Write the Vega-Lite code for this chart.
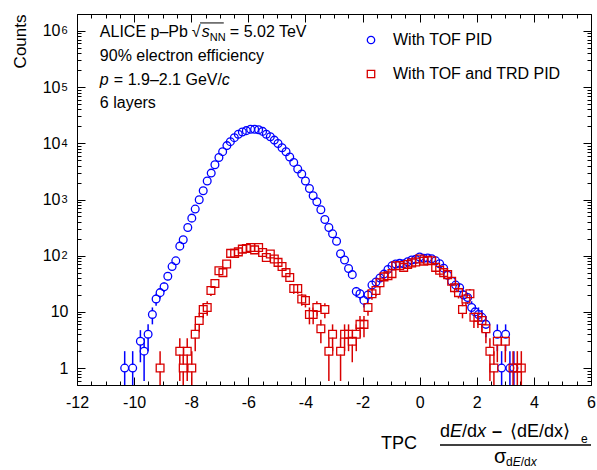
{
  "$schema": "https://vega.github.io/schema/vega-lite/v6.json",
  "width": 514,
  "height": 371,
  "autosize": {"type": "none"},
  "padding": {"left": 77, "top": 14, "right": 6, "bottom": 85},
  "background": "white",
  "config": {
    "view": {"stroke": "black", "strokeWidth": 1},
    "font": "Liberation Sans",
    "axis": {"domain": false, "grid": false, "tickColor": "black", "labelColor": "black", "labelFont": "Liberation Sans", "labelFlush": false, "labelOverlap": false, "tickWidth": 1}
  },
  "datasets": {
    "pts": [
      {"series": "With TOF PID", "x": -10.33, "n": 1, "lo": 0.3, "hi": 2},
      {"series": "With TOF PID", "x": -10.05, "n": 1, "lo": 0.3, "hi": 2},
      {"series": "With TOF PID", "x": -9.78, "n": 3, "lo": 1.27, "hi": 4.73},
      {"series": "With TOF PID", "x": -9.65, "n": 2, "lo": 0.59, "hi": 3.41},
      {"series": "With TOF PID", "x": -9.51, "n": 4, "lo": 2, "hi": 6},
      {"series": "With TOF PID", "x": -9.36, "n": 9, "lo": 6, "hi": 12},
      {"series": "With TOF PID", "x": -9.23, "n": 17, "lo": 12.88, "hi": 21.12},
      {"series": "With TOF PID", "x": -9.09, "n": 22, "lo": 17.31, "hi": 26.69},
      {"series": "With TOF PID", "x": -8.95, "n": 28, "lo": 22.7, "hi": 33.3},
      {"series": "With TOF PID", "x": -8.82, "n": 43, "lo": 36.4, "hi": 49.6},
      {"series": "With TOF PID", "x": -8.67, "n": 64, "lo": 56, "hi": 72},
      {"series": "With TOF PID", "x": -8.54, "n": 81},
      {"series": "With TOF PID", "x": -8.40, "n": 148},
      {"series": "With TOF PID", "x": -8.28, "n": 192},
      {"series": "With TOF PID", "x": -8.12, "n": 318},
      {"series": "With TOF PID", "x": -7.98, "n": 466},
      {"series": "With TOF PID", "x": -7.86, "n": 675},
      {"series": "With TOF PID", "x": -7.72, "n": 990},
      {"series": "With TOF PID", "x": -7.58, "n": 1430},
      {"series": "With TOF PID", "x": -7.44, "n": 2130},
      {"series": "With TOF PID", "x": -7.30, "n": 2950},
      {"series": "With TOF PID", "x": -7.17, "n": 4160},
      {"series": "With TOF PID", "x": -7.03, "n": 5600},
      {"series": "With TOF PID", "x": -6.90, "n": 7100},
      {"series": "With TOF PID", "x": -6.75, "n": 9100},
      {"series": "With TOF PID", "x": -6.63, "n": 10700},
      {"series": "With TOF PID", "x": -6.49, "n": 12600},
      {"series": "With TOF PID", "x": -6.35, "n": 14500},
      {"series": "With TOF PID", "x": -6.21, "n": 15900},
      {"series": "With TOF PID", "x": -6.07, "n": 16800},
      {"series": "With TOF PID", "x": -5.92, "n": 17800},
      {"series": "With TOF PID", "x": -5.78, "n": 17800},
      {"series": "With TOF PID", "x": -5.64, "n": 17400},
      {"series": "With TOF PID", "x": -5.50, "n": 16300},
      {"series": "With TOF PID", "x": -5.37, "n": 14500},
      {"series": "With TOF PID", "x": -5.23, "n": 13100},
      {"series": "With TOF PID", "x": -5.09, "n": 11400},
      {"series": "With TOF PID", "x": -4.96, "n": 9930},
      {"series": "With TOF PID", "x": -4.82, "n": 8330},
      {"series": "With TOF PID", "x": -4.68, "n": 7080},
      {"series": "With TOF PID", "x": -4.55, "n": 5690},
      {"series": "With TOF PID", "x": -4.41, "n": 4570},
      {"series": "With TOF PID", "x": -4.27, "n": 3480},
      {"series": "With TOF PID", "x": -4.13, "n": 2840},
      {"series": "With TOF PID", "x": -4.00, "n": 2130},
      {"series": "With TOF PID", "x": -3.86, "n": 1570},
      {"series": "With TOF PID", "x": -3.73, "n": 1165},
      {"series": "With TOF PID", "x": -3.60, "n": 912},
      {"series": "With TOF PID", "x": -3.46, "n": 656},
      {"series": "With TOF PID", "x": -3.32, "n": 440},
      {"series": "With TOF PID", "x": -3.18, "n": 318},
      {"series": "With TOF PID", "x": -3.05, "n": 245},
      {"series": "With TOF PID", "x": -2.91, "n": 181},
      {"series": "With TOF PID", "x": -2.77, "n": 108},
      {"series": "With TOF PID", "x": -2.63, "n": 84},
      {"series": "With TOF PID", "x": -2.49, "n": 59, "lo": 51.3, "hi": 66.7},
      {"series": "With TOF PID", "x": -2.36, "n": 46, "lo": 39.2, "hi": 52.8},
      {"series": "With TOF PID", "x": -2.22, "n": 23, "lo": 18.2, "hi": 27.8},
      {"series": "With TOF PID", "x": -2.09, "n": 21, "lo": 16.42, "hi": 25.58},
      {"series": "With TOF PID", "x": -1.95, "n": 16, "lo": 12, "hi": 20},
      {"series": "With TOF PID", "x": -1.81, "n": 20, "lo": 15.53, "hi": 24.47},
      {"series": "With TOF PID", "x": -1.67, "n": 30, "lo": 24.5, "hi": 35.5},
      {"series": "With TOF PID", "x": -1.53, "n": 34, "lo": 28.2, "hi": 39.8},
      {"series": "With TOF PID", "x": -1.39, "n": 40, "lo": 33.7, "hi": 46.3},
      {"series": "With TOF PID", "x": -1.25, "n": 47, "lo": 40.1, "hi": 53.9},
      {"series": "With TOF PID", "x": -1.11, "n": 57, "lo": 49.5, "hi": 64.5},
      {"series": "With TOF PID", "x": -0.97, "n": 66, "lo": 57.9, "hi": 74.1},
      {"series": "With TOF PID", "x": -0.84, "n": 71, "lo": 62.6, "hi": 79.4},
      {"series": "With TOF PID", "x": -0.70, "n": 73},
      {"series": "With TOF PID", "x": -0.56, "n": 72},
      {"series": "With TOF PID", "x": -0.42, "n": 78},
      {"series": "With TOF PID", "x": -0.28, "n": 84},
      {"series": "With TOF PID", "x": -0.14, "n": 86},
      {"series": "With TOF PID", "x": 0.00, "n": 95},
      {"series": "With TOF PID", "x": 0.14, "n": 90},
      {"series": "With TOF PID", "x": 0.28, "n": 91},
      {"series": "With TOF PID", "x": 0.42, "n": 88},
      {"series": "With TOF PID", "x": 0.56, "n": 81},
      {"series": "With TOF PID", "x": 0.70, "n": 72},
      {"series": "With TOF PID", "x": 0.84, "n": 60, "lo": 52.3, "hi": 67.7},
      {"series": "With TOF PID", "x": 0.98, "n": 45, "lo": 38.3, "hi": 51.7},
      {"series": "With TOF PID", "x": 1.12, "n": 35, "lo": 29.1, "hi": 40.9},
      {"series": "With TOF PID", "x": 1.26, "n": 30, "lo": 24.5, "hi": 35.5},
      {"series": "With TOF PID", "x": 1.40, "n": 27, "lo": 21.8, "hi": 32.2},
      {"series": "With TOF PID", "x": 1.54, "n": 20, "lo": 15.53, "hi": 24.47},
      {"series": "With TOF PID", "x": 1.68, "n": 18, "lo": 13.76, "hi": 22.24},
      {"series": "With TOF PID", "x": 1.82, "n": 12, "lo": 8.54, "hi": 15.46},
      {"series": "With TOF PID", "x": 1.94, "n": 10, "lo": 6.84, "hi": 13.16},
      {"series": "With TOF PID", "x": 2.06, "n": 9, "lo": 6, "hi": 12},
      {"series": "With TOF PID", "x": 2.18, "n": 8, "lo": 5.17, "hi": 10.83},
      {"series": "With TOF PID", "x": 2.32, "n": 6, "lo": 3.55, "hi": 8.45},
      {"series": "With TOF PID", "x": 2.72, "n": 4, "lo": 2, "hi": 6},
      {"series": "With TOF PID", "x": 2.87, "n": 1, "lo": 0.3, "hi": 2},
      {"series": "With TOF PID", "x": 3.01, "n": 4, "lo": 2, "hi": 6},
      {"series": "With TOF PID", "x": 3.16, "n": 1, "lo": 0.3, "hi": 2},
      {"series": "With TOF PID", "x": 3.30, "n": 1, "lo": 0.3, "hi": 2},
      {"series": "With TOF and TRD PID", "x": -9.09, "n": 1, "lo": 0.3, "hi": 2},
      {"series": "With TOF and TRD PID", "x": -8.40, "n": 2, "lo": 0.59, "hi": 3.41},
      {"series": "With TOF and TRD PID", "x": -8.28, "n": 1, "lo": 0.3, "hi": 2},
      {"series": "With TOF and TRD PID", "x": -8.14, "n": 2, "lo": 0.59, "hi": 3.41},
      {"series": "With TOF and TRD PID", "x": -7.98, "n": 1, "lo": 0.3, "hi": 2},
      {"series": "With TOF and TRD PID", "x": -7.86, "n": 4, "lo": 2, "hi": 6},
      {"series": "With TOF and TRD PID", "x": -7.72, "n": 7, "lo": 4.35, "hi": 9.65},
      {"series": "With TOF and TRD PID", "x": -7.58, "n": 11, "lo": 7.68, "hi": 14.32},
      {"series": "With TOF and TRD PID", "x": -7.44, "n": 12, "lo": 8.54, "hi": 15.46},
      {"series": "With TOF and TRD PID", "x": -7.31, "n": 24, "lo": 19.1, "hi": 28.9},
      {"series": "With TOF and TRD PID", "x": -7.17, "n": 32, "lo": 26.3, "hi": 37.7},
      {"series": "With TOF and TRD PID", "x": -7.03, "n": 54, "lo": 46.7, "hi": 61.3},
      {"series": "With TOF and TRD PID", "x": -6.89, "n": 50, "lo": 42.9, "hi": 57.1},
      {"series": "With TOF and TRD PID", "x": -6.76, "n": 71, "lo": 62.6, "hi": 79.4},
      {"series": "With TOF and TRD PID", "x": -6.62, "n": 110},
      {"series": "With TOF and TRD PID", "x": -6.48, "n": 110},
      {"series": "With TOF and TRD PID", "x": -6.35, "n": 117},
      {"series": "With TOF and TRD PID", "x": -6.21, "n": 131},
      {"series": "With TOF and TRD PID", "x": -6.07, "n": 134},
      {"series": "With TOF and TRD PID", "x": -5.92, "n": 140},
      {"series": "With TOF and TRD PID", "x": -5.78, "n": 127},
      {"series": "With TOF and TRD PID", "x": -5.64, "n": 140},
      {"series": "With TOF and TRD PID", "x": -5.50, "n": 114},
      {"series": "With TOF and TRD PID", "x": -5.37, "n": 93},
      {"series": "With TOF and TRD PID", "x": -5.23, "n": 107},
      {"series": "With TOF and TRD PID", "x": -5.09, "n": 87},
      {"series": "With TOF and TRD PID", "x": -4.96, "n": 76, "lo": 67.3, "hi": 84.7},
      {"series": "With TOF and TRD PID", "x": -4.82, "n": 64, "lo": 56, "hi": 72},
      {"series": "With TOF and TRD PID", "x": -4.68, "n": 50, "lo": 42.9, "hi": 57.1},
      {"series": "With TOF and TRD PID", "x": -4.55, "n": 41, "lo": 34.6, "hi": 47.4},
      {"series": "With TOF and TRD PID", "x": -4.41, "n": 26, "lo": 20.9, "hi": 31.1},
      {"series": "With TOF and TRD PID", "x": -4.27, "n": 26, "lo": 20.9, "hi": 31.1},
      {"series": "With TOF and TRD PID", "x": -4.13, "n": 17, "lo": 12.88, "hi": 21.12},
      {"series": "With TOF and TRD PID", "x": -4.00, "n": 16, "lo": 12, "hi": 20},
      {"series": "With TOF and TRD PID", "x": -3.86, "n": 9, "lo": 6, "hi": 12},
      {"series": "With TOF and TRD PID", "x": -3.73, "n": 9, "lo": 6, "hi": 12},
      {"series": "With TOF and TRD PID", "x": -3.60, "n": 12, "lo": 8.54, "hi": 15.46},
      {"series": "With TOF and TRD PID", "x": -3.46, "n": 5, "lo": 2.76, "hi": 7.24},
      {"series": "With TOF and TRD PID", "x": -3.32, "n": 11, "lo": 7.68, "hi": 14.32},
      {"series": "With TOF and TRD PID", "x": -3.18, "n": 2, "lo": 0.59, "hi": 3.41},
      {"series": "With TOF and TRD PID", "x": -3.05, "n": 4, "lo": 2, "hi": 6},
      {"series": "With TOF and TRD PID", "x": -2.77, "n": 2, "lo": 0.59, "hi": 3.41},
      {"series": "With TOF and TRD PID", "x": -2.63, "n": 4, "lo": 2, "hi": 6},
      {"series": "With TOF and TRD PID", "x": -2.49, "n": 4, "lo": 2, "hi": 6},
      {"series": "With TOF and TRD PID", "x": -2.36, "n": 3, "lo": 1.27, "hi": 4.73},
      {"series": "With TOF and TRD PID", "x": -2.22, "n": 4, "lo": 2, "hi": 6},
      {"series": "With TOF and TRD PID", "x": -2.09, "n": 6, "lo": 3.55, "hi": 8.45},
      {"series": "With TOF and TRD PID", "x": -1.95, "n": 6, "lo": 3.55, "hi": 8.45},
      {"series": "With TOF and TRD PID", "x": -1.81, "n": 12, "lo": 8.54, "hi": 15.46},
      {"series": "With TOF and TRD PID", "x": -1.67, "n": 21, "lo": 16.42, "hi": 25.58},
      {"series": "With TOF and TRD PID", "x": -1.53, "n": 24, "lo": 19.1, "hi": 28.9},
      {"series": "With TOF and TRD PID", "x": -1.39, "n": 33, "lo": 27.3, "hi": 38.7},
      {"series": "With TOF and TRD PID", "x": -1.25, "n": 42, "lo": 35.5, "hi": 48.5},
      {"series": "With TOF and TRD PID", "x": -1.11, "n": 44, "lo": 37.4, "hi": 50.6},
      {"series": "With TOF and TRD PID", "x": -0.97, "n": 48, "lo": 41.1, "hi": 54.9},
      {"series": "With TOF and TRD PID", "x": -0.84, "n": 66, "lo": 57.9, "hi": 74.1},
      {"series": "With TOF and TRD PID", "x": -0.70, "n": 67, "lo": 58.8, "hi": 75.2},
      {"series": "With TOF and TRD PID", "x": -0.56, "n": 62, "lo": 54.1, "hi": 69.9},
      {"series": "With TOF and TRD PID", "x": -0.42, "n": 70, "lo": 61.6, "hi": 78.4},
      {"series": "With TOF and TRD PID", "x": -0.28, "n": 74},
      {"series": "With TOF and TRD PID", "x": -0.14, "n": 77},
      {"series": "With TOF and TRD PID", "x": 0.00, "n": 87},
      {"series": "With TOF and TRD PID", "x": 0.14, "n": 80},
      {"series": "With TOF and TRD PID", "x": 0.28, "n": 83},
      {"series": "With TOF and TRD PID", "x": 0.42, "n": 81},
      {"series": "With TOF and TRD PID", "x": 0.56, "n": 62, "lo": 54.1, "hi": 69.9},
      {"series": "With TOF and TRD PID", "x": 0.70, "n": 55, "lo": 47.6, "hi": 62.4},
      {"series": "With TOF and TRD PID", "x": 0.84, "n": 50, "lo": 42.9, "hi": 57.1},
      {"series": "With TOF and TRD PID", "x": 0.98, "n": 46, "lo": 39.2, "hi": 52.8},
      {"series": "With TOF and TRD PID", "x": 1.12, "n": 35, "lo": 29.1, "hi": 40.9},
      {"series": "With TOF and TRD PID", "x": 1.22, "n": 27, "lo": 21.8, "hi": 32.2},
      {"series": "With TOF and TRD PID", "x": 1.36, "n": 22, "lo": 17.31, "hi": 26.69},
      {"series": "With TOF and TRD PID", "x": 1.50, "n": 11, "lo": 7.68, "hi": 14.32},
      {"series": "With TOF and TRD PID", "x": 1.62, "n": 17, "lo": 12.88, "hi": 21.12},
      {"series": "With TOF and TRD PID", "x": 1.76, "n": 21, "lo": 16.42, "hi": 25.58},
      {"series": "With TOF and TRD PID", "x": 1.90, "n": 8, "lo": 5.17, "hi": 10.83},
      {"series": "With TOF and TRD PID", "x": 2.04, "n": 8, "lo": 5.17, "hi": 10.83},
      {"series": "With TOF and TRD PID", "x": 2.18, "n": 7, "lo": 4.35, "hi": 9.65},
      {"series": "With TOF and TRD PID", "x": 2.32, "n": 5, "lo": 2.76, "hi": 7.24},
      {"series": "With TOF and TRD PID", "x": 2.46, "n": 2, "lo": 0.59, "hi": 3.41},
      {"series": "With TOF and TRD PID", "x": 2.60, "n": 1, "lo": 0.3, "hi": 2},
      {"series": "With TOF and TRD PID", "x": 2.72, "n": 3, "lo": 1.27, "hi": 4.73},
      {"series": "With TOF and TRD PID", "x": 3.00, "n": 3, "lo": 1.27, "hi": 4.73},
      {"series": "With TOF and TRD PID", "x": 3.27, "n": 1, "lo": 0.3, "hi": 2},
      {"series": "With TOF and TRD PID", "x": 3.42, "n": 1, "lo": 0.3, "hi": 2},
      {"series": "With TOF and TRD PID", "x": 3.56, "n": 1, "lo": 0.3, "hi": 2}
    ]
  },
  "resolve": {"axis": {"x": "independent", "y": "independent"}},
  "layer": [
    {
      "data": {"name": "pts"},
      "transform": [{"filter": "datum.series == 'With TOF PID'"}],
      "mark": {"type": "rule", "strokeWidth": 1.5, "clip": true, "color": "#0000ff"},
      "encoding": {
        "x": {"field": "x", "type": "quantitative", "scale": {"domain": [-12, 6], "nice": false, "zero": false},
              "axis": {"orient": "bottom", "values": [-12, -10, -8, -6, -4, -2, 0, 2, 4, 6], "ticks": false, "labelExpr": "'' + datum.value", "labelFontSize": 16, "labelPadding": 9, "labelBaseline": "top", "title": null}},
        "y": {"field": "lo", "type": "quantitative", "scale": {"type": "log", "domain": [0.5, 2000000], "nice": false},
              "axis": {"orient": "left", "values": [100, 1000, 10000, 100000, 1000000], "ticks": false, "labelExpr": "'10'", "labelFontSize": 16, "labelPadding": 17, "labelDy": 2,
                       "title": "Counts", "titleFont": "Liberation Sans", "titleFontSize": 17, "titleFontWeight": "normal", "titleColor": "black", "titleAngle": -90, "titleX": -57, "titleY": 0, "titleAlign": "right", "titleBaseline": "middle"}},
        "y2": {"field": "hi"}
      }
    },
    {
      "data": {"name": "pts"},
      "transform": [{"filter": "datum.series == 'With TOF and TRD PID'"}],
      "mark": {"type": "rule", "strokeWidth": 1.5, "clip": true, "color": "#d80000"},
      "encoding": {
        "x": {"field": "x", "type": "quantitative", "axis": {"orient": "bottom", "values": [-12, -10, -8, -6, -4, -2, 0, 2, 4, 6], "labels": false, "tickSize": -8, "title": null}},
        "y": {"field": "lo", "type": "quantitative", "axis": {"orient": "left", "values": [1, 10, 100, 1000, 10000, 100000, 1000000], "labels": false, "tickSize": -8, "title": null}},
        "y2": {"field": "hi"}
      }
    },
    {
      "data": {"name": "pts"},
      "transform": [{"filter": "datum.series == 'With TOF PID'"}],
      "mark": {"type": "point", "shape": "circle", "filled": true, "color": "white", "strokeWidth": 0, "size": 45, "opacity": 1},
      "encoding": {
        "x": {"field": "x", "type": "quantitative", "axis": {"orient": "bottom", "values": [-11.5, -11, -10.5, -9.5, -9, -8.5, -7.5, -7, -6.5, -5.5, -5, -4.5, -3.5, -3, -2.5, -1.5, -1, -0.5, 0.5, 1, 1.5, 2.5, 3, 3.5, 4.5, 5, 5.5], "labels": false, "tickSize": -4, "title": null}},
        "y": {"field": "n", "type": "quantitative", "axis": {"orient": "left", "values": [0.5, 0.6, 0.7, 0.8, 0.9, 2, 3, 4, 5, 6, 7, 8, 9, 20, 30, 40, 50, 60, 70, 80, 90, 200, 300, 400, 500, 600, 700, 800, 900, 2000, 3000, 4000, 5000, 6000, 7000, 8000, 9000, 20000, 30000, 40000, 50000, 60000, 70000, 80000, 90000, 200000, 300000, 400000, 500000, 600000, 700000, 800000, 900000, 2000000], "labels": false, "tickSize": -4, "title": null}}
      }
    },
    {
      "data": {"name": "pts"},
      "transform": [{"filter": "datum.series == 'With TOF and TRD PID'"}],
      "mark": {"type": "point", "shape": "square", "filled": true, "color": "white", "strokeWidth": 0, "size": 45, "opacity": 1},
      "encoding": {
        "x": {"field": "x", "type": "quantitative", "axis": {"orient": "top", "values": [-12, -10, -8, -6, -4, -2, 0, 2, 4, 6], "labels": false, "tickSize": -8, "title": null}},
        "y": {"field": "n", "type": "quantitative", "axis": {"orient": "right", "values": [1, 10, 100, 1000, 10000, 100000, 1000000], "labels": false, "tickSize": -8, "title": null}}
      }
    },
    {
      "data": {"name": "pts"},
      "mark": {"type": "point", "filled": false, "strokeWidth": 1.3, "size": 60, "opacity": 1},
      "encoding": {
        "x": {"field": "x", "type": "quantitative", "axis": {"orient": "top", "values": [-11.5, -11, -10.5, -9.5, -9, -8.5, -7.5, -7, -6.5, -5.5, -5, -4.5, -3.5, -3, -2.5, -1.5, -1, -0.5, 0.5, 1, 1.5, 2.5, 3, 3.5, 4.5, 5, 5.5], "labels": false, "tickSize": -4, "title": null}},
        "y": {"field": "n", "type": "quantitative", "axis": {"orient": "right", "values": [0.5, 0.6, 0.7, 0.8, 0.9, 2, 3, 4, 5, 6, 7, 8, 9, 20, 30, 40, 50, 60, 70, 80, 90, 200, 300, 400, 500, 600, 700, 800, 900, 2000, 3000, 4000, 5000, 6000, 7000, 8000, 9000, 20000, 30000, 40000, 50000, 60000, 70000, 80000, 90000, 200000, 300000, 400000, 500000, 600000, 700000, 800000, 900000, 2000000], "labels": false, "tickSize": -4, "title": null}},
        "color": {"field": "series", "type": "nominal", "scale": {"domain": ["With TOF PID", "With TOF and TRD PID"], "range": ["#0000ff", "#d80000"]},
                  "legend": {"orient": "none", "legendX": 286, "legendY": 18, "title": null, "labelFont": "Liberation Sans", "labelFontSize": 16, "labelColor": "black", "labelLimit": 0, "symbolSize": 55, "symbolStrokeWidth": 1.3, "rowPadding": 18, "labelOffset": 14}},
        "shape": {"field": "series", "type": "nominal", "scale": {"domain": ["With TOF PID", "With TOF and TRD PID"], "range": ["circle", "square"]},
                  "legend": {"orient": "none", "legendX": 286, "legendY": 18, "title": null, "labelFont": "Liberation Sans", "labelFontSize": 16, "labelColor": "black", "labelLimit": 0, "symbolSize": 55, "symbolStrokeWidth": 1.3, "rowPadding": 18, "labelOffset": 14}}
      }
    },
    {
      "data": {"values": [{}]},
      "mark": {"type": "text", "text": "ALICE p\u2013Pb", "align": "left", "baseline": "alphabetic", "fontSize": 16, "color": "black"},
      "encoding": {"x": {"datum": -11.2, "type": "quantitative", "axis": null}, "y": {"datum": 780000, "type": "quantitative", "axis": null}}
    },
    {
      "data": {"values": [{}]},
      "mark": {"type": "text", "text": "\u221a", "align": "left", "baseline": "alphabetic", "fontSize": 16, "dx": 92, "color": "black"},
      "encoding": {"x": {"datum": -11.2, "type": "quantitative", "axis": null}, "y": {"datum": 780000, "type": "quantitative", "axis": null}}
    },
    {
      "data": {"values": [{}]},
      "mark": {"type": "text", "text": "s", "align": "left", "baseline": "alphabetic", "fontSize": 16, "fontStyle": "italic", "dx": 102, "color": "black"},
      "encoding": {
        "x": {"datum": -11.2, "type": "quantitative", "axis": null},
        "y": {"datum": 780000, "type": "quantitative", "axis": {"orient": "left", "values": [1, 10], "ticks": false, "labelExpr": "datum.value < 5 ? '1' : '10'", "labelFontSize": 16, "labelPadding": 9, "labelDy": 2, "title": null}}
      }
    },
    {
      "data": {"values": [{}]},
      "mark": {"type": "text", "text": "NN", "align": "left", "baseline": "alphabetic", "fontSize": 11, "dx": 110, "dy": 4, "color": "black"},
      "encoding": {
        "x": {"datum": -11.2, "type": "quantitative", "axis": null},
        "y": {"datum": 780000, "type": "quantitative", "axis": {"orient": "left", "values": [100, 1000, 10000, 100000, 1000000], "ticks": false, "labelExpr": "'' + round(log(datum.value) / LN10)", "labelFontSize": 11, "labelAlign": "left", "labelPadding": 16, "labelDy": -5, "title": null}}
      }
    },
    {
      "data": {"values": [{}]},
      "mark": {"type": "text", "text": "= 5.02 TeV", "align": "left", "baseline": "alphabetic", "fontSize": 16, "dx": 130, "color": "black"},
      "encoding": {"x": {"datum": -11.2, "type": "quantitative", "axis": null}, "y": {"datum": 780000, "type": "quantitative", "axis": null}}
    },
    {
      "data": {"values": [{}]},
      "mark": {"type": "rule", "strokeWidth": 1, "color": "black"},
      "encoding": {"x": {"datum": -7.69, "type": "quantitative", "axis": null}, "x2": {"datum": -6.86}, "y": {"datum": 1386000, "type": "quantitative", "axis": null}}
    },
    {
      "data": {"values": [{}]},
      "mark": {"type": "text", "text": "90% electron efficiency", "align": "left", "baseline": "alphabetic", "fontSize": 16, "color": "black"},
      "encoding": {"x": {"datum": -11.2, "type": "quantitative", "axis": null}, "y": {"datum": 292000, "type": "quantitative", "axis": null}}
    },
    {
      "data": {"values": [{}]},
      "mark": {"type": "text", "text": "p", "align": "left", "baseline": "alphabetic", "fontSize": 16, "fontStyle": "italic", "color": "black"},
      "encoding": {"x": {"datum": -11.2, "type": "quantitative", "axis": null}, "y": {"datum": 109000, "type": "quantitative", "axis": null}}
    },
    {
      "data": {"values": [{}]},
      "mark": {"type": "text", "text": "= 1.9\u20132.1 GeV/", "align": "left", "baseline": "alphabetic", "fontSize": 16, "dx": 14, "color": "black"},
      "encoding": {"x": {"datum": -11.2, "type": "quantitative", "axis": null}, "y": {"datum": 109000, "type": "quantitative", "axis": null}}
    },
    {
      "data": {"values": [{}]},
      "mark": {"type": "text", "text": "c", "align": "left", "baseline": "alphabetic", "fontSize": 16, "fontStyle": "italic", "dx": 122, "color": "black"},
      "encoding": {"x": {"datum": -11.2, "type": "quantitative", "axis": null}, "y": {"datum": 109000, "type": "quantitative", "axis": null}}
    },
    {
      "data": {"values": [{}]},
      "mark": {"type": "text", "text": "6 layers", "align": "left", "baseline": "alphabetic", "fontSize": 16, "color": "black"},
      "encoding": {"x": {"datum": -11.2, "type": "quantitative", "axis": null}, "y": {"datum": 42500, "type": "quantitative", "axis": null}}
    },
    {
      "data": {"values": [{}]},
      "mark": {"type": "text", "text": "TPC", "align": "left", "baseline": "alphabetic", "fontSize": 18, "color": "black"},
      "encoding": {"x": {"datum": -1.354, "type": "quantitative", "axis": null}, "y": {"datum": 0.0363, "type": "quantitative", "axis": null}}
    },
    {
      "data": {"values": [{}]},
      "mark": {"type": "text", "text": "d", "align": "left", "baseline": "alphabetic", "fontSize": 18, "color": "black"},
      "encoding": {"x": {"datum": 0.712, "type": "quantitative", "axis": null}, "y": {"datum": 0.0594, "type": "quantitative", "axis": null}}
    },
    {
      "data": {"values": [{}]},
      "mark": {"type": "text", "text": "E", "align": "left", "baseline": "alphabetic", "fontSize": 18, "fontStyle": "italic", "dx": 10, "color": "black"},
      "encoding": {"x": {"datum": 0.712, "type": "quantitative", "axis": null}, "y": {"datum": 0.0594, "type": "quantitative", "axis": null}}
    },
    {
      "data": {"values": [{}]},
      "mark": {"type": "text", "text": "/d", "align": "left", "baseline": "alphabetic", "fontSize": 18, "dx": 22, "color": "black"},
      "encoding": {"x": {"datum": 0.712, "type": "quantitative", "axis": null}, "y": {"datum": 0.0594, "type": "quantitative", "axis": null}}
    },
    {
      "data": {"values": [{}]},
      "mark": {"type": "text", "text": "x", "align": "left", "baseline": "alphabetic", "fontSize": 18, "fontStyle": "italic", "dx": 37, "color": "black"},
      "encoding": {"x": {"datum": 0.712, "type": "quantitative", "axis": null}, "y": {"datum": 0.0594, "type": "quantitative", "axis": null}}
    },
    {
      "data": {"values": [{}]},
      "mark": {"type": "text", "text": "\u2013", "align": "left", "baseline": "alphabetic", "fontSize": 18, "fontWeight": "bold", "dx": 52, "color": "black"},
      "encoding": {"x": {"datum": 0.712, "type": "quantitative", "axis": null}, "y": {"datum": 0.0594, "type": "quantitative", "axis": null}}
    },
    {
      "data": {"values": [{}]},
      "mark": {"type": "text", "text": "\u27e8dE/dx\u27e9", "align": "left", "baseline": "alphabetic", "fontSize": 18, "dx": 70, "color": "black"},
      "encoding": {"x": {"datum": 0.712, "type": "quantitative", "axis": null}, "y": {"datum": 0.0594, "type": "quantitative", "axis": null}}
    },
    {
      "data": {"values": [{}]},
      "mark": {"type": "text", "text": "e", "align": "left", "baseline": "alphabetic", "fontSize": 12, "dx": 141, "dy": 6, "color": "black"},
      "encoding": {"x": {"datum": 0.712, "type": "quantitative", "axis": null}, "y": {"datum": 0.0594, "type": "quantitative", "axis": null}}
    },
    {
      "data": {"values": [{}]},
      "mark": {"type": "rule", "strokeWidth": 1.3, "color": "black"},
      "encoding": {"x": {"datum": 0.712, "type": "quantitative", "axis": null}, "x2": {"datum": 6.0}, "y": {"datum": 0.0428, "type": "quantitative", "axis": null}}
    },
    {
      "data": {"values": [{}]},
      "mark": {"type": "text", "text": "\u03c3", "align": "left", "baseline": "alphabetic", "fontSize": 20, "color": "black"},
      "encoding": {"x": {"datum": 2.603, "type": "quantitative", "axis": null}, "y": {"datum": 0.0205, "type": "quantitative", "axis": null}}
    },
    {
      "data": {"values": [{}]},
      "mark": {"type": "text", "text": "d", "align": "left", "baseline": "alphabetic", "fontSize": 12, "dx": 12, "dy": 3, "color": "black"},
      "encoding": {"x": {"datum": 2.603, "type": "quantitative", "axis": null}, "y": {"datum": 0.0205, "type": "quantitative", "axis": null}}
    },
    {
      "data": {"values": [{}]},
      "mark": {"type": "text", "text": "E", "align": "left", "baseline": "alphabetic", "fontSize": 12, "fontStyle": "italic", "dx": 18.7, "dy": 3, "color": "black"},
      "encoding": {"x": {"datum": 2.603, "type": "quantitative", "axis": null}, "y": {"datum": 0.0205, "type": "quantitative", "axis": null}}
    },
    {
      "data": {"values": [{}]},
      "mark": {"type": "text", "text": "/d", "align": "left", "baseline": "alphabetic", "fontSize": 12, "dx": 26.7, "dy": 3, "color": "black"},
      "encoding": {"x": {"datum": 2.603, "type": "quantitative", "axis": null}, "y": {"datum": 0.0205, "type": "quantitative", "axis": null}}
    },
    {
      "data": {"values": [{}]},
      "mark": {"type": "text", "text": "x", "align": "left", "baseline": "alphabetic", "fontSize": 12, "fontStyle": "italic", "dx": 36.7, "dy": 3, "color": "black"},
      "encoding": {"x": {"datum": 2.603, "type": "quantitative", "axis": null}, "y": {"datum": 0.0205, "type": "quantitative", "axis": null}}
    }
  ]
}
